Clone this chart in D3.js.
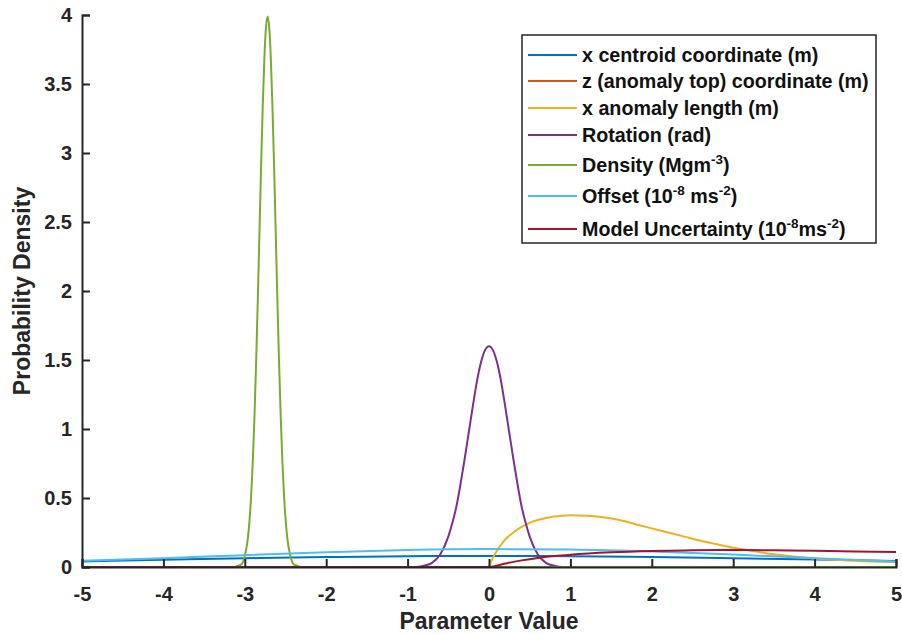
<!DOCTYPE html>
<html>
<head>
<meta charset="utf-8">
<script src="https://cdn.jsdelivr.net/npm/d3@7"></script>
<style>
  body { margin: 0; background: #fff; }
  svg { display: block; font-family: "Liberation Sans", Arial, sans-serif; font-weight: bold; }
</style>
</head>
<body>
<div id="chart"></div>
<script>

// Tick labels.
var xTicks = [-5, -4, -3, -2, -1, 0, 1, 2, 3, 4, 5];
var yTicks = [0, 0.5, 1, 1.5, 2, 2.5, 3, 3.5, 4];

// Series values.
var centroidX = [-5, -4, -3, -2, -1, 0, 1, 2, 3, 4, 5];
var centroidY = [0.040, 0.052, 0.063, 0.072, 0.078, 0.080, 0.078, 0.072, 0.064, 0.054, 0.044];

var topX = [-5, 5];
var topY = [0, 0];

var lengthX = [0, 0.05, 0.1, 0.2, 0.3, 0.4, 0.5, 0.6, 0.7, 0.8, 0.9, 1.0, 1.2, 1.4, 1.6, 1.8, 2.0,
  2.2, 2.4, 2.6, 2.8, 3.0, 3.2, 3.4, 3.6, 3.8, 4.0, 4.3, 4.6, 5.0];
var lengthY = [0, 0.07, 0.12, 0.20, 0.25, 0.29, 0.32, 0.34, 0.355, 0.366, 0.372, 0.375, 0.372, 0.36,
  0.34, 0.31, 0.28, 0.25, 0.22, 0.19, 0.165, 0.14, 0.12, 0.10, 0.085, 0.072, 0.062, 0.05, 0.042, 0.035];

var rotationX = [-5, -0.9, -0.8, -0.7, -0.6, -0.5, -0.45, -0.4, -0.35, -0.3, -0.25, -0.2, -0.15, -0.1,
  -0.05, 0, 0.05, 0.1, 0.15, 0.2, 0.25, 0.3, 0.35, 0.4, 0.45, 0.5, 0.6, 0.7, 0.8, 0.9, 5];
var rotationY = [0, 0, 0.01, 0.03, 0.09, 0.22, 0.32, 0.44, 0.60, 0.78, 0.97, 1.16, 1.34, 1.48,
  1.57, 1.60, 1.57, 1.48, 1.34, 1.16, 0.97, 0.78, 0.60, 0.44, 0.32, 0.22, 0.09, 0.03, 0.01, 0, 0];

var densityX = [-5, -3.12, -3.08, -3.04, -3.00, -2.96, -2.92, -2.90, -2.88, -2.86, -2.84, -2.82,
  -2.80, -2.78, -2.76, -2.74, -2.72, -2.70, -2.68, -2.66, -2.64, -2.62, -2.60, -2.58, -2.56,
  -2.54, -2.52, -2.48, -2.44, -2.40, -2.36, -2.32, 5];
var densityY = [0, 0, 0.01, 0.02, 0.08, 0.22, 0.54, 0.79, 1.11, 1.50, 1.94, 2.42,
  2.90, 3.33, 3.68, 3.91, 3.99, 3.91, 3.68, 3.33, 2.90, 2.42, 1.94, 1.50, 1.11,
  0.79, 0.54, 0.22, 0.08, 0.02, 0.01, 0, 0];

var offsetX = [-5, -4, -3, -2, -1, 0, 1, 2, 3, 4, 5];
var offsetY = [0.045, 0.064, 0.086, 0.106, 0.123, 0.130, 0.126, 0.112, 0.090, 0.064, 0.040];

var uncertX = [-5, 0, 0.2, 0.4, 0.6, 0.8, 1.0, 1.5, 2.0, 2.5, 3.0, 3.5, 4.0, 4.5, 5.0];
var uncertY = [0, 0, 0.025, 0.048, 0.066, 0.079, 0.089, 0.106, 0.116, 0.121, 0.123, 0.121, 0.118, 0.113, 0.108];

// Legend entries.
var names = [
  [['x centroid coordinate (m)']],
  [['z (anomaly top) coordinate (m)']],
  [['x anomaly length (m)']],
  [['Rotation (rad)']],
  [['Density (Mgm'], ['-3', 'sup'], [')']],
  [['Offset (10'], ['-8', 'sup'], [' ms'], ['-2', 'sup'], [')']],
  [['Model Uncertainty (10'], ['-8', 'sup'], ['ms'], ['-2', 'sup'], [')']]
];
var colors = ['#0072BD', '#D95319', '#EDB120', '#7E2F8E', '#77AC30', '#4DBEEE', '#A2142F'];

var series = [
  [centroidX, centroidY], [topX, topY], [lengthX, lengthY], [rotationX, rotationY],
  [densityX, densityY], [offsetX, offsetY], [uncertX, uncertY]
];

// Layout.
var width = 902, height = 634;
var margin = { left: 82, right: 6, top: 15, bottom: 67 };

var svg = d3.select('#chart').append('svg')
  .attr('width', width).attr('height', height);

var x = d3.scaleLinear().domain([-5, 5]).range([margin.left, width - margin.right]);
var y = d3.scaleLinear().domain([0, 4]).range([height - margin.bottom, margin.top]);

// Curves.
var line = d3.line()
  .x(function(d) { return x(d[0]); })
  .y(function(d) { return y(d[1]); })
  .curve(d3.curveMonotoneX);

series.forEach(function(s, i) {
  var pts = s[0].map(function(v, j) { return [v, s[1][j]]; });
  svg.append('path')
    .attr('d', line(pts))
    .attr('fill', 'none')
    .attr('stroke', colors[i])
    .attr('stroke-width', 2);
});

// Axes.
var plain = function(d) { return String(d); };
var xAxis = d3.axisBottom(x).tickValues(xTicks).tickSize(-8).tickPadding(20).tickFormat(plain);
var yAxis = d3.axisLeft(y).tickValues(yTicks).tickSize(-8).tickPadding(10).tickFormat(plain);

var gx = svg.append('g').attr('transform', 'translate(0,' + y(0) + ')').call(xAxis);
var gy = svg.append('g').attr('transform', 'translate(' + x(-5) + ',0)').call(yAxis);

[gx, gy].forEach(function(g) {
  g.select('.domain').attr('stroke', '#262626').attr('stroke-width', 2);
  g.selectAll('.tick line').attr('stroke', '#262626').attr('stroke-width', 2);
  g.selectAll('.tick text').attr('fill', '#262626')
    .style('font-size', '20px').style('font-weight', 'bold')
    .style('font-family', '"Liberation Sans", Arial, sans-serif');
});

// Axis titles.
svg.append('text')
  .attr('x', x(0)).attr('y', 629)
  .attr('text-anchor', 'middle')
  .attr('fill', '#262626')
  .style('font-size', '23px')
  .text('Parameter Value');

svg.append('text')
  .attr('transform', 'translate(30,' + y(2) + ') rotate(-90)')
  .attr('text-anchor', 'middle')
  .attr('fill', '#262626')
  .style('font-size', '23px')
  .text('Probability Density');

// Legend.
var legend = svg.append('g');
legend.append('rect')
  .attr('x', 522).attr('y', 35).attr('width', 354).attr('height', 208)
  .attr('fill', '#fff').attr('stroke', '#262626').attr('stroke-width', 1.5);

var rowY = [55, 81, 108, 135, 165, 196, 229];

names.forEach(function(parts, i) {
  legend.append('line')
    .attr('x1', 528).attr('x2', 577)
    .attr('y1', rowY[i]).attr('y2', rowY[i])
    .attr('stroke', colors[i]).attr('stroke-width', 2);

  var t = legend.append('text')
    .attr('x', 582).attr('y', rowY[i] + 7)
    .attr('fill', '#111')
    .style('font-size', '19.7px');

  var up = false;
  parts.forEach(function(p) {
    var ts = t.append('tspan').text(p[0]);
    if (p[1] === 'sup') {
      ts.attr('dy', -8).style('font-size', '13.5px');
      up = true;
    } else if (up) {
      ts.attr('dy', 8);
      up = false;
    }
  });
});

</script>
</body>
</html>
